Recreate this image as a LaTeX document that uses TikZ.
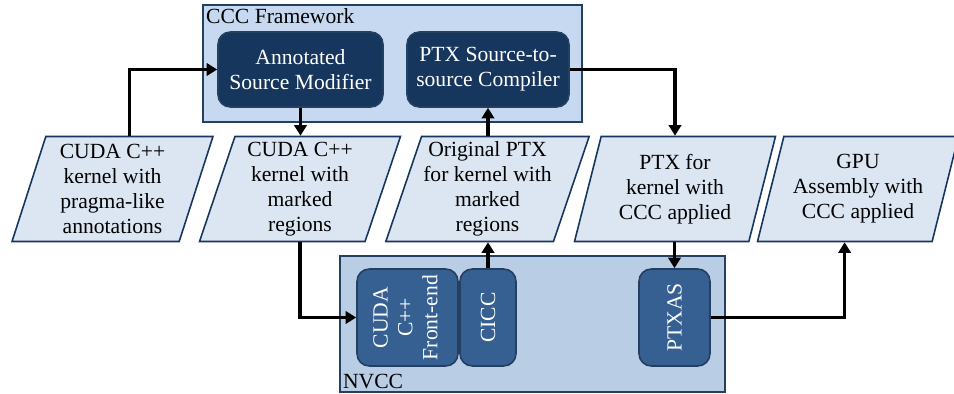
\documentclass[tikz,border=0pt]{standalone}
\usepackage{fontspec}
\setmainfont{Liberation Serif}
\usetikzlibrary{arrows.meta,shapes.geometric}
\definecolor{cccfill}{HTML}{C6D9F1}
\definecolor{nvccfill}{HTML}{B9CDE5}
\definecolor{datafill}{HTML}{DCE6F2}
\definecolor{darkstep}{HTML}{17365D}
\definecolor{midstep}{HTML}{366092}
\definecolor{edgeblue}{HTML}{243F60}
\tikzset{
  every node/.style={font=\fontsize{12.3}{14.2}\selectfont},
  container/.style={draw=edgeblue, line width=0.9pt},
  stepbox/.style={draw=edgeblue, line width=0.9pt, rounded corners=7pt, text=white, align=center, inner sep=1pt},
  databox/.style={trapezium, trapezium left angle=70, trapezium right angle=110,
    trapezium stretches body, draw=darkstep, line width=0.9pt, fill=datafill,
    minimum width=4.02cm, minimum height=2.1cm, align=center, inner sep=1pt},
  flow/.style={line width=1.9pt, -{Triangle[width=7pt,length=6pt]}},
}
\begin{document}
\begin{tikzpicture}[x=0.02cm,y=-0.02cm]
  \useasboundingbox (0,0) rectangle (954,394);

  % containers
  \node[container, fill=cccfill, minimum width=7.58cm, minimum height=2.34cm] (ccc) at (392.5,63.5) {};
  \node[anchor=north west, inner sep=2pt] (ccclabel) at (ccc.north west) {CCC Framework};
  \node[container, fill=nvccfill, minimum width=7.7cm, minimum height=2.72cm] (nvcc) at (532.5,324) {};
  \node[anchor=south west, inner sep=2pt] (nvcclabel) at (nvcc.south west) {NVCC};

  % CCC tools
  \node[stepbox, fill=darkstep, minimum width=3.3cm, minimum height=1.5cm] (asm) at (300.5,69.5) {Annotated\\Source Modifier};
  \node[stepbox, fill=darkstep, minimum width=3.24cm, minimum height=1.5cm] (ptxc) at (488,69.5) {PTX Source-to-\\source Compiler};

  % NVCC stages
  \node[stepbox, fill=midstep, minimum width=2.02cm, minimum height=1.94cm] (fe) at (407.5,317.5)
    {\rotatebox{90}{\begin{tabular}{@{}c@{}}CUDA\\C++\\Front-end\end{tabular}}};
  \node[stepbox, fill=midstep, minimum width=1.12cm, minimum height=1.94cm] (cicc) at (488,317.5) {\rotatebox{90}{CICC}};
  \node[stepbox, fill=midstep, minimum width=1.42cm, minimum height=1.94cm] (ptxas) at (674.5,317.5) {\rotatebox{90}{PTXAS}};

  % data
  \node[databox] (src) at (112.5,189) {CUDA C++\\kernel with\\pragma-like\\annotations};
  \node[databox] (mrk) at (300,189) {CUDA C++\\kernel with\\marked\\regions};
  \node[databox] (orig) at (487.5,189) {Original PTX\\for kernel with\\marked\\regions};
  \node[databox] (applied) at (675,189) {PTX for\\kernel with\\CCC applied};
  \node[databox] (gpu) at (858,189) {GPU\\Assembly with\\CCC applied};

  % flow
  \draw[flow] (src.top side) |- (asm.west);
  \draw[flow] (asm.south) -- (asm.south |- mrk.north);
  \draw[flow] (mrk.south) |- (fe.west);
  \draw[flow] (cicc.north) -- (cicc.north |- orig.south);
  \draw[flow] (ptxc.south |- orig.north) -- (ptxc.south);
  \draw[flow] (ptxc.east) -| (applied.north);
  \draw[flow] (ptxas.north |- applied.south) -- (ptxas.north);
  \draw[flow] (ptxas.east) -| (gpu.bottom side);
\end{tikzpicture}
\end{document}
